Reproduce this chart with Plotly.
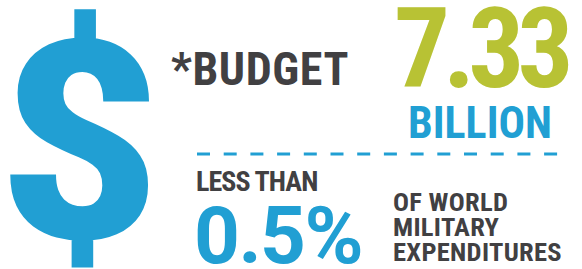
import plotly.graph_objects as go

# ---- data / texts ----
budget_value = "7.33"
budget_unit = "BILLION"
budget_label = "*BUDGET"
share_prefix = "LESS THAN"
share_value = "0.5%"
share_suffix_lines = ["OF WORLD", "MILITARY", "EXPENDITURES"]
currency_symbol = "$"

BLUE = "#219fd3"
GREEN = "#b8c234"
GRAY = "#414042"
COND = "Roboto Condensed"

W, H = 582, 269
fig = go.Figure()

# dashed divider
fig.add_trace(go.Scatter(x=[197, 558], y=[154, 154], mode="lines",
                         line=dict(color=BLUE, width=3, dash="13px,13.7px"),
                         hoverinfo="skip", showlegend=False))

def txt(x, y, s, size, color, family=COND, xanchor="left", weight=700, spacing=0):
    t = f"<span style='letter-spacing:{spacing}px'>{s}</span>" if spacing else s
    fig.add_annotation(x=x, y=y, xref="x", yref="y", text=t, showarrow=False,
                       xanchor=xanchor, yanchor="middle", borderpad=0,
                       font=dict(family=family, size=size, color=color, weight=weight))

txt(79, 143, currency_symbol, 278, BLUE, family="Roboto", xanchor="center", weight=900)
txt(170, 68.5, budget_label, 46, GRAY, spacing=0.6)
txt(393, 48.5, budget_value, 111, GREEN, spacing=-7)
txt(407, 122.5, budget_unit, 44, BLUE)
txt(195, 181, share_prefix, 28, GRAY, spacing=-0.9)
txt(193, 235.5, share_value, 80, BLUE, family="Roboto", spacing=-1.5)
for i, line in enumerate(share_suffix_lines):
    txt(392, 201 + i * 25, line, 26.5, GRAY, spacing=0.3)

fig.update_layout(width=W, height=H, margin=dict(l=0, r=0, t=0, b=0),
                  paper_bgcolor="white", plot_bgcolor="white", showlegend=False,
                  xaxis=dict(range=[0, W], visible=False, fixedrange=True),
                  yaxis=dict(range=[H, 0], visible=False, fixedrange=True))
fig.write_html("out.html", config={"displayModeBar": False, "staticPlot": True},
               post_script="document.body.style.margin='0';document.body.style.overflow='hidden';")
